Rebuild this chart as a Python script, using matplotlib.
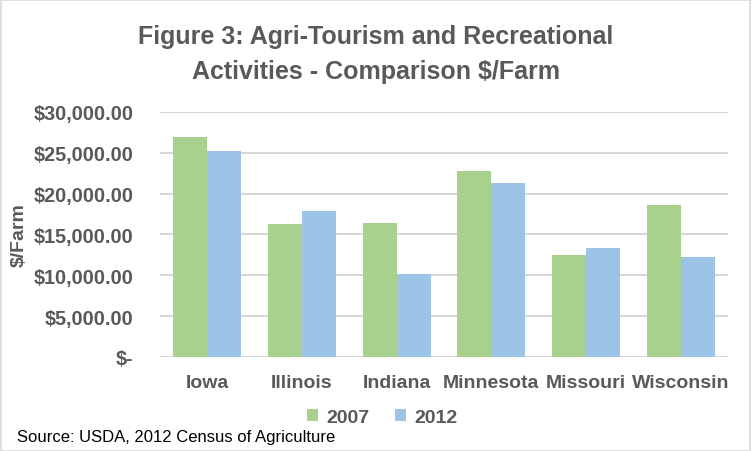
import numpy as np
import matplotlib.pyplot as plt
from matplotlib.ticker import FuncFormatter

plt.rcParams['font.family'] = ['Liberation Sans', 'DejaVu Sans']

states = ['Iowa', 'Illinois', 'Indiana', 'Minnesota', 'Missouri', 'Wisconsin']
farm_2007 = [26900, 16250, 16370, 22730, 12450, 18570]
farm_2012 = [25180, 17840, 10120, 21270, 13310, 12200]

grey = '#595959'
green = '#A9D18E'
blue = '#9DC3E6'

fig = plt.figure(figsize=(7.52, 4.52), dpi=100)
ax = fig.add_axes([0.2128, 0.208, 0.7552, 0.542])

x = np.arange(len(states))
w = 0.36
ax.bar(x - w / 2, farm_2007, w, color=green, label='2007', zorder=3)
ax.bar(x + w / 2, farm_2012, w, color=blue, label='2012', zorder=3)

ax.set_xlim(-0.5, len(states) - 0.5)
ax.set_ylim(0, 30000)
ax.set_yticks(np.arange(0, 30001, 5000))


def money(v, pos):
    if v == 0:
        return '$-'
    return '${:,.2f}'.format(v)


ax.yaxis.set_major_formatter(FuncFormatter(money))
ax.grid(axis='y', color='#D0D0D0', linewidth=1.2, zorder=0)
for s in ax.spines.values():
    s.set_visible(False)
ax.tick_params(length=0, colors=grey, labelsize=14)
ax.tick_params(axis='x', pad=12)
ax.tick_params(axis='y', pad=19, labelsize=14.3)
ax.set_xticks(x)
ax.set_xticklabels(states)
for lbl in ax.get_xticklabels() + ax.get_yticklabels():
    lbl.set_fontweight('bold')

ax.set_ylabel('$/Farm', fontsize=14, fontweight='bold', color=grey)
ax.yaxis.set_label_coords(-0.232, 0.5)

fig.text(0.5, 0.879, 'Figure 3: Agri-Tourism and Recreational\nActivities - Comparison $/Farm',
         ha='center', va='center', fontsize=18, fontweight='bold', color=grey,
         linespacing=1.6)

ax.legend(loc='center', bbox_to_anchor=(0.508, 0.075), bbox_transform=fig.transFigure,
          ncol=2, frameon=False, handlelength=0.6, handleheight=0.6,
          handletextpad=0.4, columnspacing=1.3, prop={'weight': 'bold', 'size': 14},
          labelcolor=grey)

fig.text(0.022, 0.033, 'Source: USDA, 2012 Census of Agriculture', ha='left', va='center',
         fontsize=12, color='black')

fig.patches.append(plt.Rectangle((0.001, 0.001), 0.997, 0.997, transform=fig.transFigure,
                                 fill=False, edgecolor='#D9D9D9', linewidth=1.2))

fig.savefig('out.png', dpi=100)
